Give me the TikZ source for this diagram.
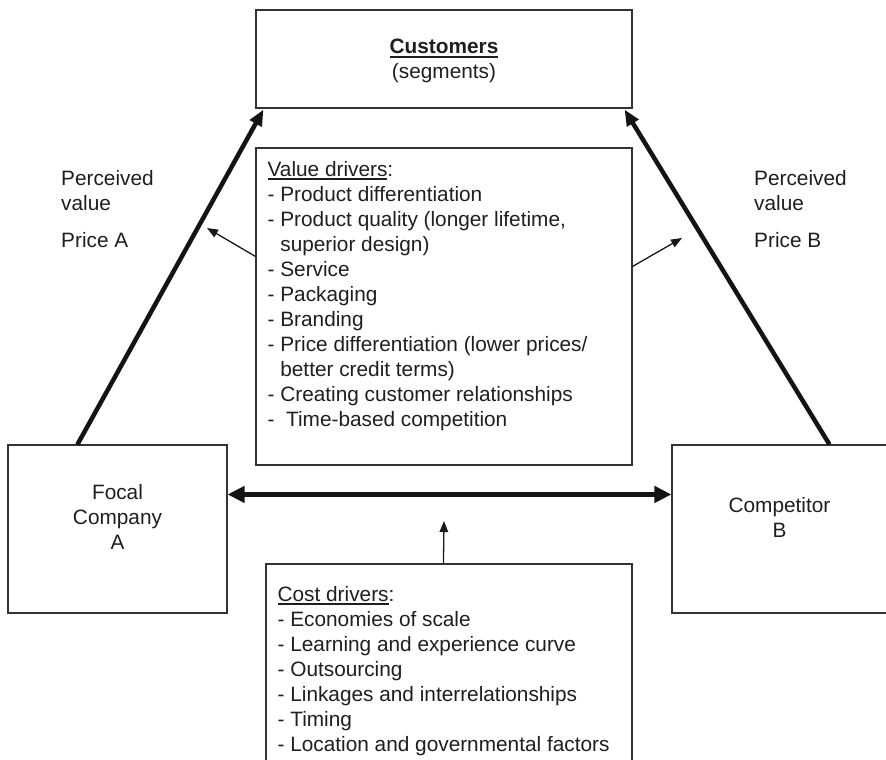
\documentclass[tikz,border=0pt]{standalone}
\usepackage{fontspec}
\setmainfont{Liberation Sans}
\usetikzlibrary{arrows.meta,calc}
\newcommand\myul[1]{\setbox0\hbox{#1}\rlap{\rule[-3.4pt]{\wd0}{1.9pt}}\box0}
\newcommand\myulb[1]{\setbox0\hbox{#1}\rlap{\rule[-5pt]{\wd0}{2.6pt}}\box0}
\begin{document}
\begin{tikzpicture}[x=1pt,y=-1pt,
  box/.style={draw=black!80, line width=1.1pt, rectangle, inner sep=0pt, fill=white},
  txt/.style={inner sep=0pt, font=\fontsize{20.8}{25}\selectfont, text=black!88},
  thickarr/.style={line width=4.5pt, draw=black!92, -{Triangle[length=16pt,width=13pt]}},
  dblarr/.style={line width=4.8pt, draw=black!92, {Triangle[length=17pt,width=16pt]}-{Triangle[length=17pt,width=16pt]}},
  thinarr/.style={line width=1.3pt, draw=black!90, -{Triangle[length=11pt,width=8.5pt]}}
]
\useasboundingbox (0,0) rectangle (886,760);
\clip (0,0) rectangle (886,760);
\fill[white] (0,0) rectangle (886,760);

% boxes
\node[box, minimum width=376pt, minimum height=98pt] (cust) at (444,59) {};
\node[box, minimum width=376pt, minimum height=317pt] (value) at (444,306.5) {};
\node[box, minimum width=219pt, minimum height=168pt] (focal) at (117.5,529) {};
\node[box, minimum width=218pt, minimum height=168pt] (comp) at (781,529) {};
\node[box, minimum width=366pt, minimum height=226pt] (cost) at (449,677) {};

% texts
\node[txt, anchor=north, align=center] (custtext) at ($(cust.north)+(0,29)$)
  {\textbf{\myulb{Customers}}\\(segments)};
\node[txt, anchor=north west, align=left] (valuetext) at ($(value.north west)+(12,14)$)
  {\myul{Value drivers}:\\
   - Product differentiation\\
   - Product quality (longer lifetime,\\
   \phantom{- }superior design)\\
   - Service\\
   - Packaging\\
   - Branding\\
   - Price differentiation (lower prices/\\
   \phantom{- }better credit terms)\\
   - Creating customer relationships\\
   -\ \ Time-based competition};
\node[txt, anchor=north, align=center] (focaltext) at ($(focal.north)+(0,40)$)
  {Focal\\Company\\A};
\node[txt, anchor=north, align=center] (comptext) at ($(comp.north west)+(108,53)$)
  {Competitor\\B};
\node[txt, anchor=north west, align=left] (costtext) at ($(cost.north west)+(12,22.5)$)
  {\myul{Cost drivers}:\\
   - Economies of scale\\
   - Learning and experience curve\\
   - Outsourcing\\
   - Linkages and interrelationships\\
   - Timing\\
   - Location and governmental factors};
\node[txt, anchor=north west, align=left] (pva) at (61,170.5)
  {Perceived\\value\\[12pt]Price A};
\node[txt, anchor=north west, align=left] (pvb) at (754,170.5)
  {Perceived\\value\\[12pt]Price B};

% free ends
\coordinate (ltip) at (207,228);
\coordinate (rtip) at (682,238);
\coordinate (costtip) at (444,521);

% connectors
\draw[thickarr] ($(focal.north west)+(70,0)$) -- ($(cust.south west)+(8,1)$);
\draw[thickarr] ($(comp.north west)+(158,0)$) -- ($(cust.south east)+(-8,1)$);
\draw[dblarr] ($(focal.north east)+(0,50)$) -- ($(comp.north west)+(0,50)$);
\draw[thinarr] ($(value.north west)+(0,109)$) -- (ltip);
\draw[thinarr] ($(value.north east)+(0,119)$) -- (rtip);
\draw[thinarr] ($(cost.north west)+(178,0)$) -- (costtip);
\end{tikzpicture}
\end{document}
